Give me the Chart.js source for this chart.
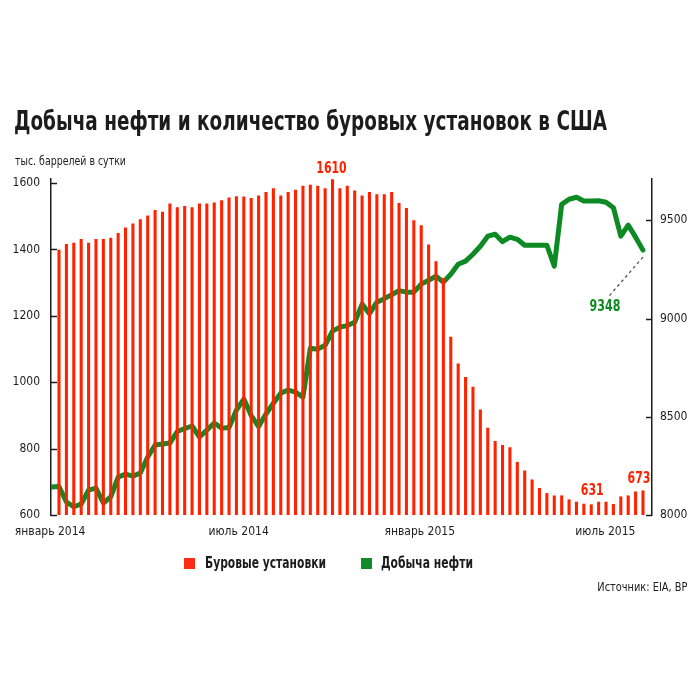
<!DOCTYPE html>
<html lang="ru">
<head>
<meta charset="utf-8">
<script src="https://cdn.jsdelivr.net/npm/chart.js@4.4.1/dist/chart.umd.min.js"></script>
<style>
  body { margin: 0; background: #fff; }
  .page {
    position: relative;
    width: 700px;
    height: 700px;
    font-family: 'DejaVu Sans Condensed', 'Liberation Sans', sans-serif;
    color: #1c1c1c;
  }
  .chart-box { position: absolute; left: 0; top: 0; width: 700px; height: 700px; }
  .fit { position: absolute; white-space: nowrap; transform-origin: left center; }
  .chart-title { left: 14px; top: 108px; font-size: 26px; line-height: 26px; font-weight: bold; }
  .chart-unit { left: 15px; top: 154px; font-size: 13px; line-height: 14px; }
  .legend-text { top: 555px; font-size: 15px; line-height: 16px; font-weight: bold; }
  .legend-box { position: absolute; top: 558px; width: 11px; height: 11px; }
  .chart-source { right: 13px; top: 580px; font-size: 13px; line-height: 14px; transform-origin: right center; }
</style>
</head>
<body>
<div class="page">
  <div class="chart-box"><canvas id="chart"></canvas></div>
  <div class="fit chart-title" data-fit="593">Добыча нефти и количество буровых установок в США</div>
  <div class="fit chart-unit" data-fit="111">тыс. баррелей в сутки</div>
  <div class="legend-box" style="left:184px; background:#ff2d14"></div>
  <div class="fit legend-text" style="left:205px" data-fit="121">Буровые установки</div>
  <div class="legend-box" style="left:361px; background:#118c2a"></div>
  <div class="fit legend-text" style="left:381px" data-fit="92">Добыча нефти</div>
  <div class="fit chart-source" data-fit="90">Источник: EIA, BP</div>
</div>
<script>
// weekly rig count (left axis), one bar per week from early January 2014
const rigCounts = [
  1398, 1415, 1419, 1430, 1419, 1430, 1430, 1434, 1448, 1465,
  1477, 1490, 1501, 1518, 1512, 1537, 1526, 1530, 1526, 1537,
  1537, 1540, 1547, 1555, 1559, 1558, 1554, 1561, 1572, 1583,
  1561, 1572, 1579, 1591, 1594, 1591, 1583, 1610, 1583, 1591,
  1576, 1561, 1572, 1565, 1565, 1572, 1539, 1524, 1487, 1472,
  1414, 1363, 1313, 1136, 1055, 1015, 985, 917, 862, 822,
  810, 803, 759, 733, 706, 680, 665, 658, 658, 646,
  639, 633, 631, 639, 639, 632, 655, 658, 670, 673
];

// weekly oil output, thousand barrels per day (right axis), starts one week earlier
const oilOutput = [
  8142, 8145, 8066, 8042, 8056, 8127, 8137, 8061, 8092, 8193,
  8208, 8198, 8214, 8295, 8356, 8361, 8366, 8425, 8440, 8453,
  8397, 8432, 8468, 8442, 8445, 8534, 8590, 8506, 8450, 8514,
  8569, 8620, 8636, 8625, 8600, 8849, 8844, 8864, 8936, 8956,
  8964, 8981, 9073, 9025, 9083, 9101, 9121, 9142, 9134, 9134,
  9175, 9195, 9215, 9185, 9225, 9276, 9292, 9327, 9368, 9419,
  9429, 9391, 9414, 9403, 9373, 9373, 9373, 9373, 9266, 9581,
  9607, 9617, 9598, 9598, 9599, 9592, 9564, 9419, 9475, 9414,
  9348
];
const firstOilWeek = -1;

const tickWeeks = [-1.2, 24.3, 48.8, 73.9];
const tickLabels = ['январь 2014', 'июль 2014', 'январь 2015', 'июль 2015'];
const rigTicks = [600, 800, 1000, 1200, 1400, 1600];
const oilTicks = [8000, 8500, 9000, 9500];

const rigColor = '#ff2200';
const oilColor = '#0e8a24';
const axisColor = '#1c1c1c';
const fontFamily = "'DejaVu Sans Condensed', 'Liberation Sans', sans-serif";

// squeeze html texts to the widths of the narrow original font
document.querySelectorAll('[data-fit]').forEach((el) => {
  const k = Number(el.dataset.fit) / el.getBoundingClientRect().width;
  el.style.transform = `scaleX(${k})`;
});

Chart.defaults.font.family = fontFamily;
Chart.defaults.color = axisColor;

// bars that get a value printed above them
const rigNotes = [
  { index: 37, dx: -1, dy: -11 },
  { index: 72, dx: 1, dy: -14 },
  { index: 79, dx: -4, dy: -12 },
];

function narrowText(ctx, text, x, y, digitWidth) {
  const k = (digitWidth * text.length) / ctx.measureText(text).width;
  ctx.save();
  ctx.translate(x, y);
  ctx.scale(k, 1);
  ctx.fillText(text, 0, 0);
  ctx.restore();
}

const innerTicks = {
  id: 'innerTicks',
  afterDatasetsDraw(chart) {
    const { ctx, chartArea, scales } = chart;
    ctx.save();
    ctx.strokeStyle = axisColor;
    ctx.lineWidth = 1.5;
    scales.y.ticks.forEach((t) => {
      const y = Math.round(scales.y.getPixelForValue(t.value)) + 0.5;
      ctx.beginPath();
      ctx.moveTo(chartArea.left, y);
      ctx.lineTo(chartArea.left + 6, y);
      ctx.stroke();
    });
    scales.y2.ticks.forEach((t) => {
      const y = Math.round(scales.y2.getPixelForValue(t.value)) + 0.5;
      ctx.beginPath();
      ctx.moveTo(chartArea.right, y);
      ctx.lineTo(chartArea.right - 6, y);
      ctx.stroke();
    });
    ctx.restore();
  },
};

const valueNotes = {
  id: 'valueNotes',
  afterDatasetsDraw(chart) {
    const { ctx, scales } = chart;
    ctx.save();
    ctx.font = 'bold 16px ' + fontFamily;
    ctx.textAlign = 'center';
    ctx.textBaseline = 'middle';

    ctx.fillStyle = rigColor;
    rigNotes.forEach((n) => {
      const x = scales.x.getPixelForValue(n.index);
      const y = scales.y.getPixelForValue(rigCounts[n.index]);
      narrowText(ctx, String(rigCounts[n.index]), x + n.dx, y + n.dy, 7.6);
    });

    // last oil value with a dashed leader
    const last = oilOutput.length - 1;
    const px = scales.x.getPixelForValue(firstOilWeek + last);
    const py = scales.y2.getPixelForValue(oilOutput[last]);
    ctx.strokeStyle = '#555';
    ctx.lineWidth = 1.3;
    ctx.setLineDash([3, 3]);
    ctx.beginPath();
    ctx.moveTo(px, py + 7);
    ctx.lineTo(px - 34, py + 46);
    ctx.stroke();
    ctx.setLineDash([]);
    ctx.fillStyle = oilColor;
    narrowText(ctx, String(oilOutput[last]), px - 38, py + 57, 7.7);
    ctx.restore();
  },
};

new Chart(document.getElementById('chart'), {
  type: 'bar',
  data: {
    datasets: [
      {
        type: 'bar',
        label: 'Буровые установки',
        data: rigCounts.map((v, i) => ({ x: i, y: v })),
        backgroundColor: rigColor,
        barThickness: 2.4,
        yAxisID: 'y',
        order: 1,
      },
      {
        type: 'line',
        label: 'Добыча нефти',
        data: oilOutput.map((v, i) => ({ x: firstOilWeek + i, y: v })),
        borderColor: oilColor,
        borderWidth: 5,
        borderJoinStyle: 'round',
        borderCapStyle: 'round',
        pointRadius: 0,
        tension: 0,
        yAxisID: 'y2',
        order: 2,
      },
    ],
  },
  options: {
    responsive: true,
    maintainAspectRatio: false,
    animation: false,
    events: [],
    layout: { padding: { top: 179, bottom: 155, left: 0, right: 0 } },
    plugins: {
      legend: { display: false },
      title: { display: false },
      tooltip: { enabled: false },
    },
    scales: {
      x: {
        type: 'linear',
        offset: false,
        min: -1.083,
        max: 80.22,
        grid: { display: false, offset: false },
        border: { display: false },
        afterBuildTicks: (scale) => {
          scale.ticks = tickWeeks.map((v) => ({ value: v }));
        },
        afterFit: (scale) => { scale.height = 30; },
        ticks: {
          autoSkip: false,
          maxRotation: 0,
          padding: 2,
          font: { size: 12 },
          callback: (v, i) => tickLabels[i],
        },
      },
      y: {
        position: 'left',
        min: 600,
        max: 1612,
        grid: { drawOnChartArea: false, drawTicks: false },
        border: { display: true, color: axisColor, width: 1.5 },
        afterBuildTicks: (scale) => {
          scale.ticks = rigTicks.map((v) => ({ value: v }));
        },
        afterFit: (scale) => { scale.width = 51; },
        ticks: { padding: 11, font: { size: 12 }, callback: (v) => String(v) },
      },
      y2: {
        position: 'right',
        min: 8000,
        max: 9710,
        grid: { drawOnChartArea: false, drawTicks: false },
        border: { display: true, color: axisColor, width: 1.5 },
        afterBuildTicks: (scale) => {
          scale.ticks = oilTicks.map((v) => ({ value: v }));
        },
        afterFit: (scale) => { scale.width = 48; },
        ticks: { padding: 8, font: { size: 12 }, callback: (v) => String(v) },
      },
    },
  },
  plugins: [innerTicks, valueNotes],
});
</script>
</body>
</html>
